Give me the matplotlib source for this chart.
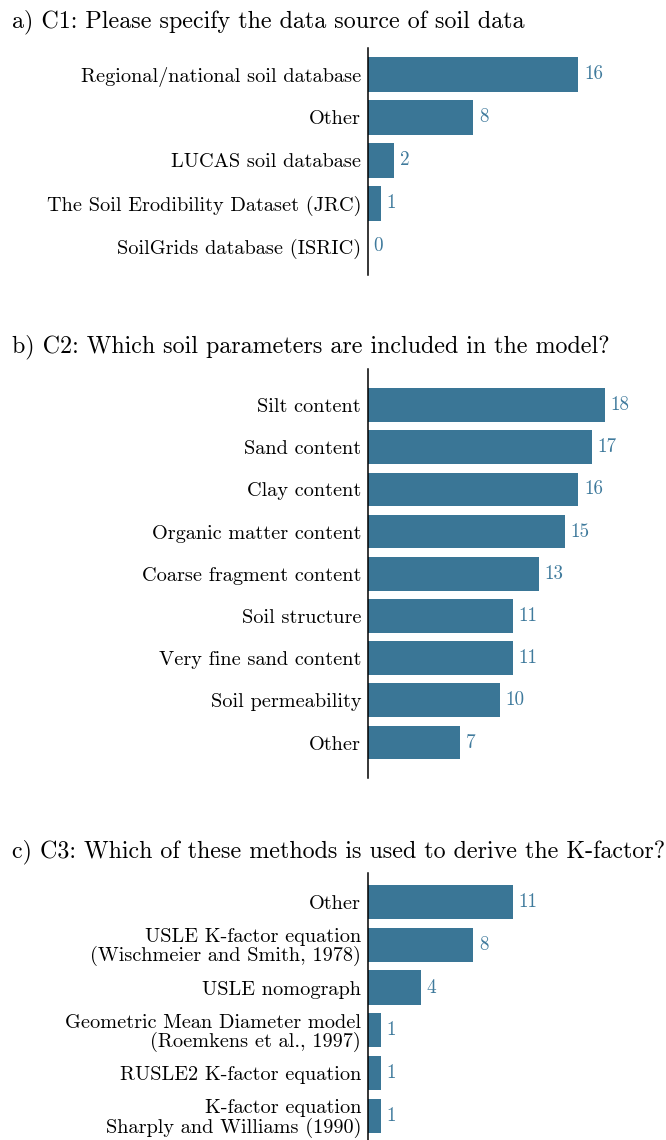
import numpy as np
import matplotlib
matplotlib.use("Agg")
import matplotlib.pyplot as plt
from matplotlib import rcParams

rcParams.update({"font.family": "cmr10", "axes.formatter.use_mathtext": True})

# data
c1_labels = ["Regional/national soil database", "Other", "LUCAS soil database",
             "The Soil Erodibility Dataset (JRC)", "SoilGrids database (ISRIC)"]
c1_values = [16, 8, 2, 1, 0]

c2_labels = ["Silt content", "Sand content", "Clay content", "Organic matter content",
             "Coarse fragment content", "Soil structure", "Very fine sand content",
             "Soil permeability", "Other"]
c2_values = [18, 17, 16, 15, 13, 11, 11, 10, 7]

c3_labels = ["Other", "USLE K-factor equation\n(Wischmeier and Smith, 1978)", "USLE nomograph",
             "Geometric Mean Diameter model\n(Roemkens et al., 1997)", "RUSLE2 K-factor equation",
             "K-factor equation\nSharply and Williams (1990)"]
c3_values = [11, 8, 4, 1, 1, 1]

titles = ["a) C1: Please specify the data source of soil data",
          "b) C2: Which soil parameters are included in the model?",
          "c) C3: Which of these methods is used to derive the K-factor?"]

W, H = 666, 1140
bar_col = "#3a7696"
txt_col = "#3f7a9c"

fig = plt.figure(figsize=(W / 100, H / 100), dpi=100)

# pixel layout: (title y, axes top, axes bottom, ylim top, ylim bottom)
layout = [(22, 48, 275, -0.616, 4.663),
          (347, 369, 778, -0.853, 8.84),
          (852, 873, 1145, -0.678, 5.68)]
x0, unit = 368, 13.15
xmax = 20

for (ty, top, bot, ylo, yhi), labels, values, title in zip(
        layout, [c1_labels, c2_labels, c3_labels], [c1_values, c2_values, c3_values], titles):
    ax = fig.add_axes([x0 / W, 1 - bot / H, xmax * unit / W, (bot - top) / H])
    pos = np.arange(len(values))
    bars = ax.barh(pos, values, height=0.8, color=bar_col, edgecolor="none")
    ax.bar_label(bars, labels=[str(v) for v in values], padding=4, color=txt_col, fontsize=13.8)
    ax.set_yticks(pos)
    ax.set_yticklabels(labels, fontsize=14.6, linespacing=1.0)
    ax.set_ylim(yhi, ylo)
    ax.set_xlim(0, xmax)
    ax.set_xticks([])
    ax.tick_params(axis="y", length=0, pad=5)
    for s in ["top", "right", "bottom"]:
        ax.spines[s].set_visible(False)
    ax.spines["left"].set_linewidth(1.1)
    ax.patch.set_visible(False)
    fig.text(12 / W, 1 - ty / H, title, fontsize=17.3, ha="left", va="center")

fig.savefig("out.png", dpi=100)
